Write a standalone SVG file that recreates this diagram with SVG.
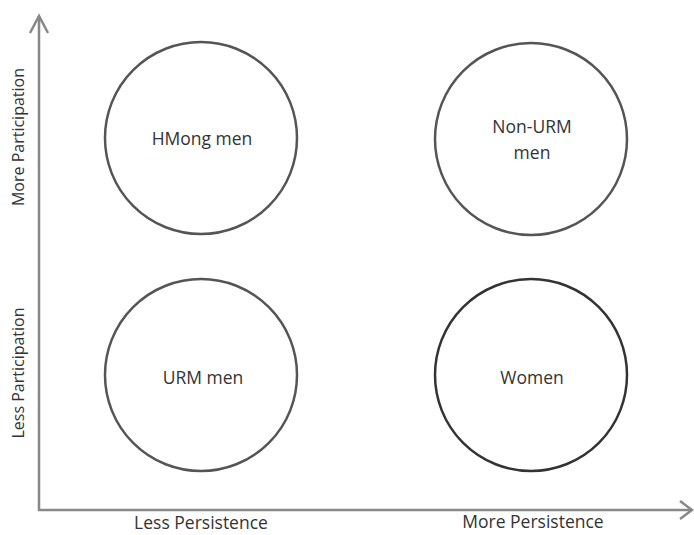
<svg xmlns="http://www.w3.org/2000/svg" width="694" height="535" viewBox="0 0 694 535">
<defs>
<style>
.c{fill:#fff;stroke:#555;stroke-width:2.5}
.t{font-family:"Open Sans","Liberation Sans",sans-serif;font-size:17.5px;fill:#333;text-anchor:middle;dominant-baseline:central}
.v{font-size:16px}
.ax{stroke:#888;stroke-width:2.5;fill:none}
</style>
</defs>
<rect width="694" height="535" fill="#fff"/>
<g id="axes">
<path class="ax" d="M39,16 V510 H692"/>
<path class="ax" d="M30,33 L39,16 L48,33"/>
<path class="ax" d="M680,501 L692,510 L680,519"/>
</g>
<g id="hmong"><circle class="c" cx="201" cy="138" r="96"/><text class="t" x="202" y="138">HMong men</text></g>
<g id="nonurm"><circle class="c" cx="531" cy="139" r="96"/><text class="t" x="532" y="126">Non-URM</text><text class="t" x="532" y="152">men</text></g>
<g id="urm"><circle class="c" cx="201" cy="375" r="96"/><text class="t" x="203" y="377">URM men</text></g>
<g id="women"><circle class="c" cx="531" cy="375" r="96" style="stroke:#333"/><text class="t" x="532" y="377">Women</text></g>
<g id="labels">
<text class="t" x="201" y="522">Less Persistence</text>
<text class="t" x="533" y="521">More Persistence</text>
<text class="t v" transform="translate(18,137) rotate(-90)">More Participation</text>
<text class="t v" transform="translate(18,373) rotate(-90)">Less Participation</text>
</g>
</svg>
